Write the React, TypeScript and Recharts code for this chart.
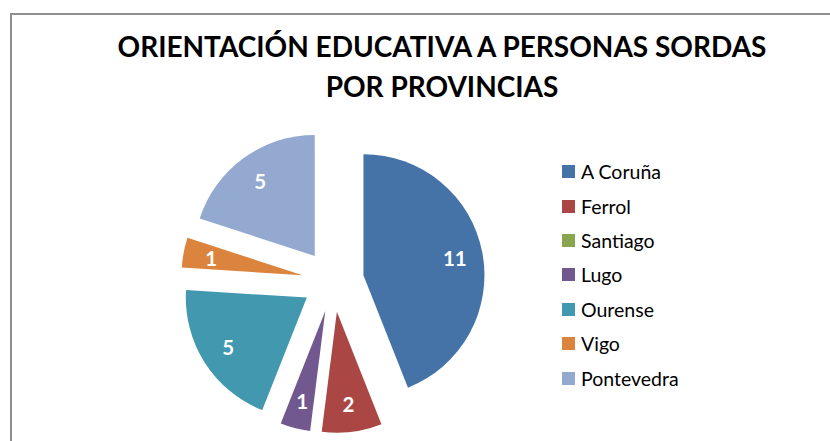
import React from 'react';
import { PieChart, Pie, Cell, Legend, Sector } from 'recharts';

const provinces = ['A Coruña', 'Ferrol', 'Santiago', 'Lugo', 'Ourense', 'Vigo', 'Pontevedra'];
const counts = [11, 2, 0, 1, 5, 1, 5];
const colors = ['#4572A7', '#AA4643', '#89A54E', '#71588F', '#4198AF', '#DB843D', '#93A9CF'];
const titleLines = ['ORIENTACIÓN EDUCATIVA A PERSONAS SORDAS', 'POR PROVINCIAS'];

const data = provinces.map((name, i) => ({ name, value: counts[i] }));

const RAD = Math.PI / 180;
const EXPLODE = 31;
const LABEL_R = 93;
const FONT = 'Lato, "Open Sans", sans-serif';

const ExplodedSector = (props: any) => {
  const { cx, cy, midAngle } = props;
  const dx = EXPLODE * Math.cos(-midAngle * RAD);
  const dy = EXPLODE * Math.sin(-midAngle * RAD);
  return <Sector {...props} cx={cx + dx} cy={cy + dy} stroke="none" />;
};

const renderLabel = (p: any) => {
  if (!p.value) return null;
  const { cx, cy, midAngle } = p;
  const r = EXPLODE + LABEL_R;
  const x = cx + r * Math.cos(-midAngle * RAD);
  const y = cy + r * Math.sin(-midAngle * RAD);
  return (
    <text
      x={x}
      y={y}
      fill="#ffffff"
      textAnchor="middle"
      dominantBaseline="central"
      fontFamily={FONT}
      fontWeight="bold"
      fontSize={20.5}
    >
      {p.value}
    </text>
  );
};

const renderLegend = (props: any) => {
  const payload = [...(props.payload || [])].sort(
    (a: any, b: any) => provinces.indexOf(a.value) - provinces.indexOf(b.value)
  );
  return (
    <div style={{ fontFamily: FONT }}>
      {payload.map((entry: any, i: number) => (
        <div
          key={i}
          style={{ height: 34.4, display: 'flex', alignItems: 'center' }}
        >
          <div style={{ width: 13, height: 13, background: entry.color, marginRight: 6 }} />
          <span style={{ fontSize: 19.5, color: '#000' }}>{entry.value}</span>
        </div>
      ))}
    </div>
  );
};

export default function App() {
  return (
    <div
      style={{
        position: 'fixed',
        left: 0,
        top: 0,
        width: 830,
        height: 441,
        overflow: 'hidden',
        background: '#fff',
      }}
    >
      <div
        style={{
          position: 'absolute',
          left: 10,
          top: 13,
          width: 900,
          height: 500,
          borderLeft: '2px solid #8f8f8f',
          borderTop: '2px solid #8f8f8f',
        }}
      />
      <svg
        width={830}
        height={441}
        style={{ position: 'absolute', left: 0, top: 0, pointerEvents: 'none' }}
      >
        {titleLines.map((t, i) => (
          <text
            key={i}
            x={442}
            y={57 + i * 39.5}
            textAnchor="middle"
            fontFamily={FONT}
            fontWeight="bold"
            fontSize={28}
            fill="#000"
          >
            {t}
          </text>
        ))}
      </svg>
      <div style={{ position: 'absolute', left: 0, top: 0 }}>
        <PieChart width={830} height={441} margin={{ top: 0, right: 0, bottom: 0, left: 0 }}>
          <Pie
            data={data}
            dataKey="value"
            nameKey="name"
            cx={333}
            cy={281}
            outerRadius={121}
            startAngle={90}
            endAngle={-270}
            stroke="none"
            isAnimationActive={false}
            labelLine={false}
            label={renderLabel}
            shape={ExplodedSector}
          >
            {data.map((_, i) => (
              <Cell key={i} fill={colors[i]} />
            ))}
          </Pie>
          <Legend
            layout="vertical"
            content={renderLegend}
            wrapperStyle={{ left: 562, top: 154.5, width: 220 }}
          />
        </PieChart>
      </div>
    </div>
  );
}
